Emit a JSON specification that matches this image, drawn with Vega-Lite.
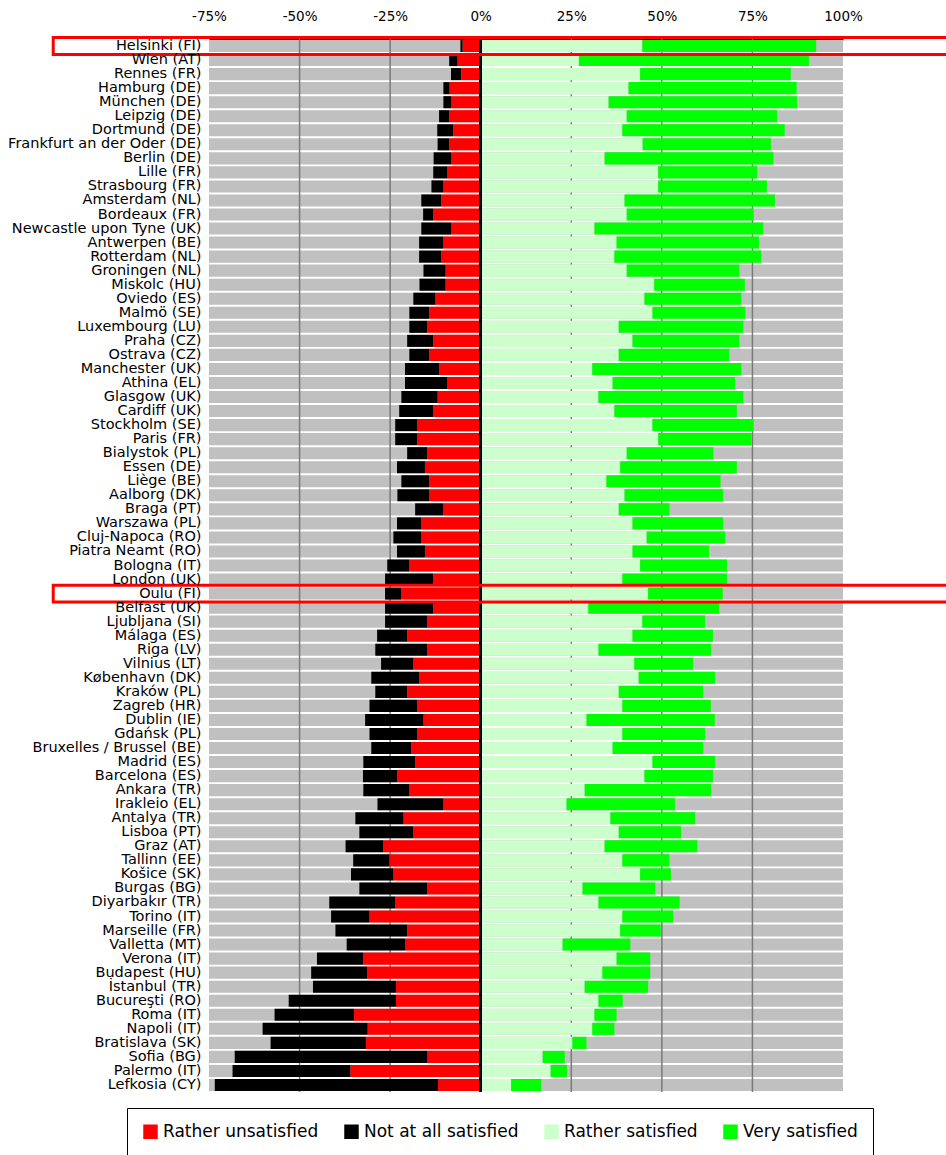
{
  "$schema": "https://vega.github.io/schema/vega-lite/v6.json",
  "autosize": {"type": "none"},
  "width": 634,
  "height": 1053,
  "padding": {"left": 209, "top": 39, "right": 103, "bottom": 63},
  "background": "#ffffff",
  "config": {
    "font": "DejaVu Sans",
    "view": {"stroke": null},
    "axis": {"labelFont": "DejaVu Sans", "labelColor": "#000000", "title": null, "grid": false, "ticks": false}
  },
  "data": {"values": [
    {"city":"Helsinki (FI)","level":"Rather unsatisfied","pct":-5.0},{"city":"Helsinki (FI)","level":"Not at all satisfied","pct":-0.6},{"city":"Helsinki (FI)","level":"Rather satisfied","pct":44.6},{"city":"Helsinki (FI)","level":"Very satisfied","pct":48.0},
    {"city":"Wien (AT)","level":"Rather unsatisfied","pct":-6.4},{"city":"Wien (AT)","level":"Not at all satisfied","pct":-2.3},{"city":"Wien (AT)","level":"Rather satisfied","pct":27.1},{"city":"Wien (AT)","level":"Very satisfied","pct":63.5},
    {"city":"Rennes (FR)","level":"Rather unsatisfied","pct":-5.4},{"city":"Rennes (FR)","level":"Not at all satisfied","pct":-2.8},{"city":"Rennes (FR)","level":"Rather satisfied","pct":44.0},{"city":"Rennes (FR)","level":"Very satisfied","pct":41.6},
    {"city":"Hamburg (DE)","level":"Rather unsatisfied","pct":-8.6},{"city":"Hamburg (DE)","level":"Not at all satisfied","pct":-1.7},{"city":"Hamburg (DE)","level":"Rather satisfied","pct":40.8},{"city":"Hamburg (DE)","level":"Very satisfied","pct":46.4},
    {"city":"München (DE)","level":"Rather unsatisfied","pct":-8.1},{"city":"München (DE)","level":"Not at all satisfied","pct":-2.2},{"city":"München (DE)","level":"Rather satisfied","pct":35.3},{"city":"München (DE)","level":"Very satisfied","pct":52.0},
    {"city":"Leipzig (DE)","level":"Rather unsatisfied","pct":-8.7},{"city":"Leipzig (DE)","level":"Not at all satisfied","pct":-2.8},{"city":"Leipzig (DE)","level":"Rather satisfied","pct":40.3},{"city":"Leipzig (DE)","level":"Very satisfied","pct":41.5},
    {"city":"Dortmund (DE)","level":"Rather unsatisfied","pct":-7.6},{"city":"Dortmund (DE)","level":"Not at all satisfied","pct":-4.4},{"city":"Dortmund (DE)","level":"Rather satisfied","pct":39.1},{"city":"Dortmund (DE)","level":"Very satisfied","pct":44.8},
    {"city":"Frankfurt an der Oder (DE)","level":"Rather unsatisfied","pct":-8.7},{"city":"Frankfurt an der Oder (DE)","level":"Not at all satisfied","pct":-3.2},{"city":"Frankfurt an der Oder (DE)","level":"Rather satisfied","pct":44.7},{"city":"Frankfurt an der Oder (DE)","level":"Very satisfied","pct":35.4},
    {"city":"Berlin (DE)","level":"Rather unsatisfied","pct":-8.1},{"city":"Berlin (DE)","level":"Not at all satisfied","pct":-4.9},{"city":"Berlin (DE)","level":"Rather satisfied","pct":34.2},{"city":"Berlin (DE)","level":"Very satisfied","pct":46.6},
    {"city":"Lille (FR)","level":"Rather unsatisfied","pct":-9.2},{"city":"Lille (FR)","level":"Not at all satisfied","pct":-3.9},{"city":"Lille (FR)","level":"Rather satisfied","pct":49.0},{"city":"Lille (FR)","level":"Very satisfied","pct":27.3},
    {"city":"Strasbourg (FR)","level":"Rather unsatisfied","pct":-10.3},{"city":"Strasbourg (FR)","level":"Not at all satisfied","pct":-3.3},{"city":"Strasbourg (FR)","level":"Rather satisfied","pct":49.0},{"city":"Strasbourg (FR)","level":"Very satisfied","pct":30.0},
    {"city":"Amsterdam (NL)","level":"Rather unsatisfied","pct":-10.9},{"city":"Amsterdam (NL)","level":"Not at all satisfied","pct":-5.5},{"city":"Amsterdam (NL)","level":"Rather satisfied","pct":39.7},{"city":"Amsterdam (NL)","level":"Very satisfied","pct":41.5},
    {"city":"Bordeaux (FR)","level":"Rather unsatisfied","pct":-13.1},{"city":"Bordeaux (FR)","level":"Not at all satisfied","pct":-2.8},{"city":"Bordeaux (FR)","level":"Rather satisfied","pct":40.3},{"city":"Bordeaux (FR)","level":"Very satisfied","pct":35.0},
    {"city":"Newcastle upon Tyne (UK)","level":"Rather unsatisfied","pct":-8.1},{"city":"Newcastle upon Tyne (UK)","level":"Not at all satisfied","pct":-8.3},{"city":"Newcastle upon Tyne (UK)","level":"Rather satisfied","pct":31.4},{"city":"Newcastle upon Tyne (UK)","level":"Very satisfied","pct":46.6},
    {"city":"Antwerpen (BE)","level":"Rather unsatisfied","pct":-10.3},{"city":"Antwerpen (BE)","level":"Not at all satisfied","pct":-6.7},{"city":"Antwerpen (BE)","level":"Rather satisfied","pct":37.5},{"city":"Antwerpen (BE)","level":"Very satisfied","pct":39.3},
    {"city":"Rotterdam (NL)","level":"Rather unsatisfied","pct":-10.9},{"city":"Rotterdam (NL)","level":"Not at all satisfied","pct":-6.1},{"city":"Rotterdam (NL)","level":"Rather satisfied","pct":36.9},{"city":"Rotterdam (NL)","level":"Very satisfied","pct":40.5},
    {"city":"Groningen (NL)","level":"Rather unsatisfied","pct":-9.7},{"city":"Groningen (NL)","level":"Not at all satisfied","pct":-6.1},{"city":"Groningen (NL)","level":"Rather satisfied","pct":40.3},{"city":"Groningen (NL)","level":"Very satisfied","pct":31.1},
    {"city":"Miskolc (HU)","level":"Rather unsatisfied","pct":-9.7},{"city":"Miskolc (HU)","level":"Not at all satisfied","pct":-7.2},{"city":"Miskolc (HU)","level":"Rather satisfied","pct":47.9},{"city":"Miskolc (HU)","level":"Very satisfied","pct":25.0},
    {"city":"Oviedo (ES)","level":"Rather unsatisfied","pct":-12.5},{"city":"Oviedo (ES)","level":"Not at all satisfied","pct":-6.1},{"city":"Oviedo (ES)","level":"Rather satisfied","pct":45.2},{"city":"Oviedo (ES)","level":"Very satisfied","pct":26.7},
    {"city":"Malmö (SE)","level":"Rather unsatisfied","pct":-14.2},{"city":"Malmö (SE)","level":"Not at all satisfied","pct":-5.5},{"city":"Malmö (SE)","level":"Rather satisfied","pct":47.4},{"city":"Malmö (SE)","level":"Very satisfied","pct":25.6},
    {"city":"Luxembourg (LU)","level":"Rather unsatisfied","pct":-14.8},{"city":"Luxembourg (LU)","level":"Not at all satisfied","pct":-4.9},{"city":"Luxembourg (LU)","level":"Rather satisfied","pct":38.1},{"city":"Luxembourg (LU)","level":"Very satisfied","pct":34.4},
    {"city":"Praha (CZ)","level":"Rather unsatisfied","pct":-13.1},{"city":"Praha (CZ)","level":"Not at all satisfied","pct":-7.2},{"city":"Praha (CZ)","level":"Rather satisfied","pct":41.9},{"city":"Praha (CZ)","level":"Very satisfied","pct":29.5},
    {"city":"Ostrava (CZ)","level":"Rather unsatisfied","pct":-14.2},{"city":"Ostrava (CZ)","level":"Not at all satisfied","pct":-5.5},{"city":"Ostrava (CZ)","level":"Rather satisfied","pct":38.1},{"city":"Ostrava (CZ)","level":"Very satisfied","pct":30.5},
    {"city":"Manchester (UK)","level":"Rather unsatisfied","pct":-11.5},{"city":"Manchester (UK)","level":"Not at all satisfied","pct":-9.4},{"city":"Manchester (UK)","level":"Rather satisfied","pct":30.8},{"city":"Manchester (UK)","level":"Very satisfied","pct":41.1},
    {"city":"Athina (EL)","level":"Rather unsatisfied","pct":-9.2},{"city":"Athina (EL)","level":"Not at all satisfied","pct":-11.7},{"city":"Athina (EL)","level":"Rather satisfied","pct":36.4},{"city":"Athina (EL)","level":"Very satisfied","pct":33.8},
    {"city":"Glasgow (UK)","level":"Rather unsatisfied","pct":-11.9},{"city":"Glasgow (UK)","level":"Not at all satisfied","pct":-10.0},{"city":"Glasgow (UK)","level":"Rather satisfied","pct":32.5},{"city":"Glasgow (UK)","level":"Very satisfied","pct":40.0},
    {"city":"Cardiff (UK)","level":"Rather unsatisfied","pct":-13.1},{"city":"Cardiff (UK)","level":"Not at all satisfied","pct":-9.4},{"city":"Cardiff (UK)","level":"Rather satisfied","pct":36.9},{"city":"Cardiff (UK)","level":"Very satisfied","pct":33.8},
    {"city":"Stockholm (SE)","level":"Rather unsatisfied","pct":-17.5},{"city":"Stockholm (SE)","level":"Not at all satisfied","pct":-6.1},{"city":"Stockholm (SE)","level":"Rather satisfied","pct":47.4},{"city":"Stockholm (SE)","level":"Very satisfied","pct":27.9},
    {"city":"Paris (FR)","level":"Rather unsatisfied","pct":-17.5},{"city":"Paris (FR)","level":"Not at all satisfied","pct":-6.1},{"city":"Paris (FR)","level":"Rather satisfied","pct":49.0},{"city":"Paris (FR)","level":"Very satisfied","pct":25.7},
    {"city":"Bialystok (PL)","level":"Rather unsatisfied","pct":-14.8},{"city":"Bialystok (PL)","level":"Not at all satisfied","pct":-5.5},{"city":"Bialystok (PL)","level":"Rather satisfied","pct":40.3},{"city":"Bialystok (PL)","level":"Very satisfied","pct":23.9},
    {"city":"Essen (DE)","level":"Rather unsatisfied","pct":-15.4},{"city":"Essen (DE)","level":"Not at all satisfied","pct":-7.7},{"city":"Essen (DE)","level":"Rather satisfied","pct":38.5},{"city":"Essen (DE)","level":"Very satisfied","pct":32.2},
    {"city":"Liège (BE)","level":"Rather unsatisfied","pct":-14.2},{"city":"Liège (BE)","level":"Not at all satisfied","pct":-7.7},{"city":"Liège (BE)","level":"Rather satisfied","pct":34.7},{"city":"Liège (BE)","level":"Very satisfied","pct":31.5},
    {"city":"Aalborg (DK)","level":"Rather unsatisfied","pct":-14.2},{"city":"Aalborg (DK)","level":"Not at all satisfied","pct":-8.8},{"city":"Aalborg (DK)","level":"Rather satisfied","pct":39.7},{"city":"Aalborg (DK)","level":"Very satisfied","pct":27.2},
    {"city":"Braga (PT)","level":"Rather unsatisfied","pct":-10.3},{"city":"Braga (PT)","level":"Not at all satisfied","pct":-7.8},{"city":"Braga (PT)","level":"Rather satisfied","pct":38.1},{"city":"Braga (PT)","level":"Very satisfied","pct":14.0},
    {"city":"Warszawa (PL)","level":"Rather unsatisfied","pct":-16.4},{"city":"Warszawa (PL)","level":"Not at all satisfied","pct":-6.7},{"city":"Warszawa (PL)","level":"Rather satisfied","pct":41.9},{"city":"Warszawa (PL)","level":"Very satisfied","pct":25.0},
    {"city":"Cluj-Napoca (RO)","level":"Rather unsatisfied","pct":-16.4},{"city":"Cluj-Napoca (RO)","level":"Not at all satisfied","pct":-7.7},{"city":"Cluj-Napoca (RO)","level":"Rather satisfied","pct":45.8},{"city":"Cluj-Napoca (RO)","level":"Very satisfied","pct":21.7},
    {"city":"Piatra Neamt (RO)","level":"Rather unsatisfied","pct":-15.4},{"city":"Piatra Neamt (RO)","level":"Not at all satisfied","pct":-7.7},{"city":"Piatra Neamt (RO)","level":"Rather satisfied","pct":41.9},{"city":"Piatra Neamt (RO)","level":"Very satisfied","pct":21.1},
    {"city":"Bologna (IT)","level":"Rather unsatisfied","pct":-19.7},{"city":"Bologna (IT)","level":"Not at all satisfied","pct":-6.1},{"city":"Bologna (IT)","level":"Rather satisfied","pct":44.0},{"city":"Bologna (IT)","level":"Very satisfied","pct":24.0},
    {"city":"London (UK)","level":"Rather unsatisfied","pct":-13.1},{"city":"London (UK)","level":"Not at all satisfied","pct":-13.3},{"city":"London (UK)","level":"Rather satisfied","pct":39.1},{"city":"London (UK)","level":"Very satisfied","pct":28.9},
    {"city":"Oulu (FI)","level":"Rather unsatisfied","pct":-21.9},{"city":"Oulu (FI)","level":"Not at all satisfied","pct":-4.5},{"city":"Oulu (FI)","level":"Rather satisfied","pct":46.2},{"city":"Oulu (FI)","level":"Very satisfied","pct":20.6},
    {"city":"Belfast (UK)","level":"Rather unsatisfied","pct":-13.1},{"city":"Belfast (UK)","level":"Not at all satisfied","pct":-13.3},{"city":"Belfast (UK)","level":"Rather satisfied","pct":29.7},{"city":"Belfast (UK)","level":"Very satisfied","pct":36.1},
    {"city":"Ljubljana (SI)","level":"Rather unsatisfied","pct":-14.8},{"city":"Ljubljana (SI)","level":"Not at all satisfied","pct":-11.6},{"city":"Ljubljana (SI)","level":"Rather satisfied","pct":44.6},{"city":"Ljubljana (SI)","level":"Very satisfied","pct":17.3},
    {"city":"Málaga (ES)","level":"Rather unsatisfied","pct":-20.3},{"city":"Málaga (ES)","level":"Not at all satisfied","pct":-8.3},{"city":"Málaga (ES)","level":"Rather satisfied","pct":41.9},{"city":"Málaga (ES)","level":"Very satisfied","pct":22.2},
    {"city":"Riga (LV)","level":"Rather unsatisfied","pct":-14.8},{"city":"Riga (LV)","level":"Not at all satisfied","pct":-14.3},{"city":"Riga (LV)","level":"Rather satisfied","pct":32.5},{"city":"Riga (LV)","level":"Very satisfied","pct":31.1},
    {"city":"Vilnius (LT)","level":"Rather unsatisfied","pct":-18.6},{"city":"Vilnius (LT)","level":"Not at all satisfied","pct":-8.9},{"city":"Vilnius (LT)","level":"Rather satisfied","pct":42.4},{"city":"Vilnius (LT)","level":"Very satisfied","pct":16.2},
    {"city":"København (DK)","level":"Rather unsatisfied","pct":-17.0},{"city":"København (DK)","level":"Not at all satisfied","pct":-13.2},{"city":"København (DK)","level":"Rather satisfied","pct":43.6},{"city":"København (DK)","level":"Very satisfied","pct":21.1},
    {"city":"Kraków (PL)","level":"Rather unsatisfied","pct":-20.3},{"city":"Kraków (PL)","level":"Not at all satisfied","pct":-8.8},{"city":"Kraków (PL)","level":"Rather satisfied","pct":38.1},{"city":"Kraków (PL)","level":"Very satisfied","pct":23.3},
    {"city":"Zagreb (HR)","level":"Rather unsatisfied","pct":-17.5},{"city":"Zagreb (HR)","level":"Not at all satisfied","pct":-13.2},{"city":"Zagreb (HR)","level":"Rather satisfied","pct":39.1},{"city":"Zagreb (HR)","level":"Very satisfied","pct":24.4},
    {"city":"Dublin (IE)","level":"Rather unsatisfied","pct":-15.8},{"city":"Dublin (IE)","level":"Not at all satisfied","pct":-16.1},{"city":"Dublin (IE)","level":"Rather satisfied","pct":29.2},{"city":"Dublin (IE)","level":"Very satisfied","pct":35.4},
    {"city":"Gdańsk (PL)","level":"Rather unsatisfied","pct":-17.5},{"city":"Gdańsk (PL)","level":"Not at all satisfied","pct":-13.2},{"city":"Gdańsk (PL)","level":"Rather satisfied","pct":39.1},{"city":"Gdańsk (PL)","level":"Very satisfied","pct":22.8},
    {"city":"Bruxelles / Brussel (BE)","level":"Rather unsatisfied","pct":-19.2},{"city":"Bruxelles / Brussel (BE)","level":"Not at all satisfied","pct":-11.0},{"city":"Bruxelles / Brussel (BE)","level":"Rather satisfied","pct":36.4},{"city":"Bruxelles / Brussel (BE)","level":"Very satisfied","pct":25.0},
    {"city":"Madrid (ES)","level":"Rather unsatisfied","pct":-18.1},{"city":"Madrid (ES)","level":"Not at all satisfied","pct":-14.3},{"city":"Madrid (ES)","level":"Rather satisfied","pct":47.4},{"city":"Madrid (ES)","level":"Very satisfied","pct":17.3},
    {"city":"Barcelona (ES)","level":"Rather unsatisfied","pct":-23.1},{"city":"Barcelona (ES)","level":"Not at all satisfied","pct":-9.4},{"city":"Barcelona (ES)","level":"Rather satisfied","pct":45.2},{"city":"Barcelona (ES)","level":"Very satisfied","pct":18.9},
    {"city":"Ankara (TR)","level":"Rather unsatisfied","pct":-19.7},{"city":"Ankara (TR)","level":"Not at all satisfied","pct":-12.7},{"city":"Ankara (TR)","level":"Rather satisfied","pct":28.7},{"city":"Ankara (TR)","level":"Very satisfied","pct":34.9},
    {"city":"Irakleio (EL)","level":"Rather unsatisfied","pct":-10.3},{"city":"Irakleio (EL)","level":"Not at all satisfied","pct":-18.2},{"city":"Irakleio (EL)","level":"Rather satisfied","pct":23.7},{"city":"Irakleio (EL)","level":"Very satisfied","pct":29.9},
    {"city":"Antalya (TR)","level":"Rather unsatisfied","pct":-21.3},{"city":"Antalya (TR)","level":"Not at all satisfied","pct":-13.3},{"city":"Antalya (TR)","level":"Rather satisfied","pct":35.8},{"city":"Antalya (TR)","level":"Very satisfied","pct":23.4},
    {"city":"Lisboa (PT)","level":"Rather unsatisfied","pct":-18.6},{"city":"Lisboa (PT)","level":"Not at all satisfied","pct":-14.9},{"city":"Lisboa (PT)","level":"Rather satisfied","pct":38.1},{"city":"Lisboa (PT)","level":"Very satisfied","pct":17.2},
    {"city":"Graz (AT)","level":"Rather unsatisfied","pct":-26.9},{"city":"Graz (AT)","level":"Not at all satisfied","pct":-10.4},{"city":"Graz (AT)","level":"Rather satisfied","pct":34.2},{"city":"Graz (AT)","level":"Very satisfied","pct":25.6},
    {"city":"Tallinn (EE)","level":"Rather unsatisfied","pct":-25.2},{"city":"Tallinn (EE)","level":"Not at all satisfied","pct":-10.0},{"city":"Tallinn (EE)","level":"Rather satisfied","pct":39.1},{"city":"Tallinn (EE)","level":"Very satisfied","pct":13.0},
    {"city":"Košice (SK)","level":"Rather unsatisfied","pct":-24.1},{"city":"Košice (SK)","level":"Not at all satisfied","pct":-11.7},{"city":"Košice (SK)","level":"Rather satisfied","pct":44.0},{"city":"Košice (SK)","level":"Very satisfied","pct":8.5},
    {"city":"Burgas (BG)","level":"Rather unsatisfied","pct":-14.8},{"city":"Burgas (BG)","level":"Not at all satisfied","pct":-18.7},{"city":"Burgas (BG)","level":"Rather satisfied","pct":28.1},{"city":"Burgas (BG)","level":"Very satisfied","pct":20.1},
    {"city":"Diyarbakır (TR)","level":"Rather unsatisfied","pct":-23.6},{"city":"Diyarbakır (TR)","level":"Not at all satisfied","pct":-18.2},{"city":"Diyarbakır (TR)","level":"Rather satisfied","pct":32.5},{"city":"Diyarbakır (TR)","level":"Very satisfied","pct":22.4},
    {"city":"Torino (IT)","level":"Rather unsatisfied","pct":-30.7},{"city":"Torino (IT)","level":"Not at all satisfied","pct":-10.6},{"city":"Torino (IT)","level":"Rather satisfied","pct":39.1},{"city":"Torino (IT)","level":"Very satisfied","pct":14.0},
    {"city":"Marseille (FR)","level":"Rather unsatisfied","pct":-20.3},{"city":"Marseille (FR)","level":"Not at all satisfied","pct":-19.8},{"city":"Marseille (FR)","level":"Rather satisfied","pct":38.5},{"city":"Marseille (FR)","level":"Very satisfied","pct":11.2},
    {"city":"Valletta (MT)","level":"Rather unsatisfied","pct":-20.9},{"city":"Valletta (MT)","level":"Not at all satisfied","pct":-16.1},{"city":"Valletta (MT)","level":"Rather satisfied","pct":22.6},{"city":"Valletta (MT)","level":"Very satisfied","pct":18.7},
    {"city":"Verona (IT)","level":"Rather unsatisfied","pct":-32.5},{"city":"Verona (IT)","level":"Not at all satisfied","pct":-12.7},{"city":"Verona (IT)","level":"Rather satisfied","pct":37.5},{"city":"Verona (IT)","level":"Very satisfied","pct":9.3},
    {"city":"Budapest (HU)","level":"Rather unsatisfied","pct":-31.3},{"city":"Budapest (HU)","level":"Not at all satisfied","pct":-15.5},{"city":"Budapest (HU)","level":"Rather satisfied","pct":33.6},{"city":"Budapest (HU)","level":"Very satisfied","pct":13.2},
    {"city":"İstanbul (TR)","level":"Rather unsatisfied","pct":-23.4},{"city":"İstanbul (TR)","level":"Not at all satisfied","pct":-22.9},{"city":"İstanbul (TR)","level":"Rather satisfied","pct":28.7},{"city":"İstanbul (TR)","level":"Very satisfied","pct":17.5},
    {"city":"Bucureşti (RO)","level":"Rather unsatisfied","pct":-23.4},{"city":"Bucureşti (RO)","level":"Not at all satisfied","pct":-29.6},{"city":"Bucureşti (RO)","level":"Rather satisfied","pct":32.5},{"city":"Bucureşti (RO)","level":"Very satisfied","pct":6.7},
    {"city":"Roma (IT)","level":"Rather unsatisfied","pct":-35.0},{"city":"Roma (IT)","level":"Not at all satisfied","pct":-21.9},{"city":"Roma (IT)","level":"Rather satisfied","pct":31.4},{"city":"Roma (IT)","level":"Very satisfied","pct":6.1},
    {"city":"Napoli (IT)","level":"Rather unsatisfied","pct":-31.2},{"city":"Napoli (IT)","level":"Not at all satisfied","pct":-29.0},{"city":"Napoli (IT)","level":"Rather satisfied","pct":30.8},{"city":"Napoli (IT)","level":"Very satisfied","pct":6.1},
    {"city":"Bratislava (SK)","level":"Rather unsatisfied","pct":-31.7},{"city":"Bratislava (SK)","level":"Not at all satisfied","pct":-26.3},{"city":"Bratislava (SK)","level":"Rather satisfied","pct":25.3},{"city":"Bratislava (SK)","level":"Very satisfied","pct":3.9},
    {"city":"Sofia (BG)","level":"Rather unsatisfied","pct":-14.7},{"city":"Sofia (BG)","level":"Not at all satisfied","pct":-53.2},{"city":"Sofia (BG)","level":"Rather satisfied","pct":17.1},{"city":"Sofia (BG)","level":"Very satisfied","pct":6.1},
    {"city":"Palermo (IT)","level":"Rather unsatisfied","pct":-36.0},{"city":"Palermo (IT)","level":"Not at all satisfied","pct":-32.5},{"city":"Palermo (IT)","level":"Rather satisfied","pct":19.3},{"city":"Palermo (IT)","level":"Very satisfied","pct":4.5},
    {"city":"Lefkosia (CY)","level":"Rather unsatisfied","pct":-11.8},{"city":"Lefkosia (CY)","level":"Not at all satisfied","pct":-61.6},{"city":"Lefkosia (CY)","level":"Rather satisfied","pct":8.4},{"city":"Lefkosia (CY)","level":"Very satisfied","pct":8.3}
  ]},
  "layer": [
    {
      "transform": [{"aggregate": [{"op": "count", "as": "n"}], "groupby": ["city"]}],
      "mark": {"type": "rect", "fill": "#c0c0c0"},
      "encoding": {
        "y": {"field": "city", "type": "nominal", "sort": null,
              "scale": {"paddingInner": 0.14, "paddingOuter": 0.07},
              "axis": {"title": null, "ticks": false, "domain": false, "labelPadding": 8, "labelFontSize": 14.5, "labelColor": "#000000", "labelLimit": 300}},
        "x": {"datum": -75, "type": "quantitative", "scale": {"domain": [-75, 100], "nice": false, "zero": false}},
        "x2": {"datum": 100}
      }
    },
    {
      "data": {"values": [{"g": -50}, {"g": -25}, {"g": 25}, {"g": 50}, {"g": 75}]},
      "mark": {"type": "rule", "color": "#7a7a7a", "strokeWidth": 1.5},
      "encoding": {"x": {"field": "g", "type": "quantitative"}}
    },
    {
      "transform": [{"filter": "datum.pct < 0"}],
      "mark": {"type": "bar"},
      "encoding": {
        "y": {"field": "city", "type": "nominal", "sort": null},
        "x": {"field": "pct", "type": "quantitative", "stack": "zero",
              "axis": {"orient": "top", "title": null, "values": [-75, -50, -25, 0, 25, 50, 75, 100], "labelExpr": "datum.value + '%'", "labelFontSize": 13.5, "labelPadding": 16, "labelFlush": false, "labelOverlap": false, "labelBound": false, "ticks": false, "grid": false, "domain": true, "domainColor": "#000000", "domainWidth": 2, "labelColor": "#000000"}},
        "order": {"field": "level", "sort": "descending"},
        "color": {"field": "level", "type": "nominal",
                  "scale": {"domain": ["Rather unsatisfied", "Not at all satisfied", "Rather satisfied", "Very satisfied"], "range": ["#ff0000", "#000000", "#ccffcc", "#00ff00"]},
                  "legend": {"orient": "none", "legendX": -82, "legendY": 1069, "direction": "horizontal", "title": null, "symbolType": "square", "symbolSize": 210, "symbolStrokeWidth": 0, "symbolOpacity": 1, "labelFontSize": 17, "labelFont": "DejaVu Sans", "labelColor": "#000000", "labelLimit": 300, "labelOffset": 4, "columnPadding": 24, "padding": 15, "strokeColor": "#000000", "fillColor": "#ffffff"}}
      }
    },
    {
      "transform": [{"filter": "datum.pct > 0"}],
      "mark": {"type": "bar"},
      "encoding": {
        "y": {"field": "city", "type": "nominal", "sort": null},
        "x": {"field": "pct", "type": "quantitative", "stack": "zero"},
        "order": {"field": "level", "sort": "ascending"},
        "color": {"field": "level", "type": "nominal"}
      }
    },
    {
      "mark": {"type": "rule", "color": "#000000", "strokeWidth": 2},
      "encoding": {"x": {"datum": 0, "type": "quantitative"}}
    },
    {
      "transform": [
        {"filter": "datum.city === 'Helsinki (FI)' || datum.city === 'Oulu (FI)'"},
        {"aggregate": [{"op": "count", "as": "n"}], "groupby": ["city"]}
      ],
      "mark": {"type": "rect", "fill": null, "fillOpacity": 0, "stroke": "#ff0000", "strokeWidth": 3, "clip": false},
      "encoding": {
        "y": {"field": "city", "type": "nominal", "sort": null, "bandPosition": -0.2},
        "y2": {"field": "city", "bandPosition": 1.2},
        "x": {"datum": -118, "type": "quantitative"},
        "x2": {"datum": 130}
      }
    }
  ]
}
